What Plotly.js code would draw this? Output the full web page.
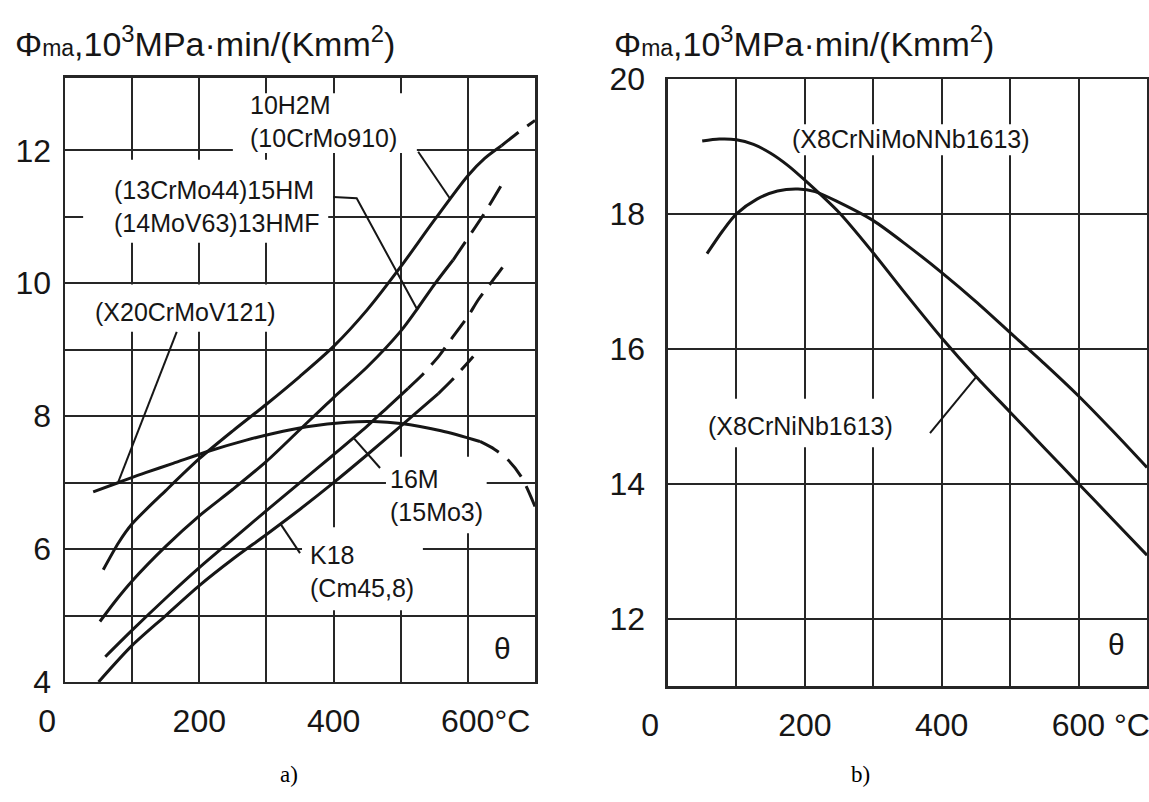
<!DOCTYPE html>
<html><head><meta charset="utf-8">
<script src="https://cdn.plot.ly/plotly-3.0.1.min.js"></script>
<style>html,body{margin:0;padding:0;background:#fff}#chart{width:1149px;height:802px}</style>
</head><body><div id="chart"></div>
<script>
// ---------- Panel a) data (temperature °C, Φma in 10^3 MPa·min/(K mm^2)) ----------
const tA_10H2M      = [57, 80, 100, 150, 200, 250, 300, 350, 400, 450, 500, 550, 600, 625, 650];
const phiA_10H2M    = [5.69, 6.1, 6.38, 6.88, 7.36, 7.78, 8.18, 8.6, 9.05, 9.6, 10.25, 10.95, 11.62, 11.88, 12.07];
const tA_10H2M_d    = [650, 675, 700];
const phiA_10H2M_d  = [12.07, 12.27, 12.45];

const tA_15HM       = [52, 76, 100, 150, 200, 250, 300, 350, 400, 450, 500, 525, 550, 578];
const phiA_15HM     = [4.91, 5.23, 5.52, 6.04, 6.5, 6.9, 7.32, 7.8, 8.28, 8.74, 9.28, 9.62, 9.98, 10.35];
const tA_15HM_d     = [578, 600, 625, 650];
const phiA_15HM_d   = [10.35, 10.68, 11.06, 11.48];

const tA_16M        = [60, 100, 150, 200, 250, 300, 350, 400, 450, 480, 511];
const phiA_16M      = [4.38, 4.78, 5.26, 5.72, 6.15, 6.58, 7.0, 7.42, 7.85, 8.13, 8.42];
const tA_16M_d      = [511, 530, 558, 573, 600, 616, 645, 660];
const phiA_16M_d    = [8.42, 8.6, 8.92, 9.13, 9.5, 9.76, 10.15, 10.36];

const tA_K18        = [50, 100, 150, 200, 250, 300, 350, 400, 450, 500, 556];
const phiA_K18      = [4.0, 4.55, 5.0, 5.45, 5.85, 6.22, 6.6, 7.0, 7.42, 7.85, 8.34];
const tA_K18_d      = [556, 576, 608];
const phiA_K18_d    = [8.34, 8.54, 8.9];

const tA_X20        = [42, 82, 120, 161, 216, 270, 310, 360, 420, 460, 500, 560, 618];
const phiA_X20      = [6.86, 7.01, 7.15, 7.29, 7.48, 7.64, 7.74, 7.84, 7.91, 7.92, 7.89, 7.78, 7.62];
const tA_X20_d      = [618, 640, 660, 680, 700];
const phiA_X20_d    = [7.62, 7.5, 7.34, 7.08, 6.64];

// ---------- Panel b) data ----------
const tB_Nb         = [50, 75, 100, 125, 150, 175, 200, 250, 300, 350, 400, 450, 500, 550, 600, 650, 700];
const phiB_Nb       = [19.08, 19.11, 19.1, 19.03, 18.9, 18.72, 18.5, 18.02, 17.42, 16.78, 16.16, 15.59, 15.06, 14.53, 14.0, 13.47, 12.94];
const tB_MoN        = [57, 80, 100, 130, 160, 190, 215, 250, 300, 350, 400, 450, 500, 550, 600, 650, 700];
const phiB_MoN      = [17.41, 17.75, 18.0, 18.22, 18.34, 18.37, 18.33, 18.17, 17.9, 17.53, 17.13, 16.7, 16.24, 15.78, 15.3, 14.78, 14.24];

// ---------- Tick labels ----------
const xTickVals   = [0, 100, 200, 300, 400, 500, 600];
const xTickTextA  = ['0\u2007\u2007', '', '200', '', '400', '', '\u2007\u2007600°C'];
const xTickTextB  = ['0\u2007\u2007', '', '200', '', '400', '', '\u2007\u2007\u2008600 °C'];
const yTickValsA  = [4, 5, 6, 7, 8, 9, 10, 11, 12];
const yTickTextA  = ['4', '', '6', '', '8', '', '10', '', '12'];
const yTickValsB  = [12, 14, 16, 18, 20];
const yTickTextB  = ['12', '14', '16', '18', '20'];

const INK = '#161616';
const GRID = '#262626';
const FONT = 'Liberation Sans, Arial, sans-serif';

function solid(x, y, xa, ya) {
  return {x, y, xaxis: xa, yaxis: ya, mode: 'lines', hoverinfo: 'skip',
    line: {color: INK, width: 3, shape: 'spline', smoothing: 0.8}};
}
function dashed(x, y, xa, ya) {
  return {x, y, xaxis: xa, yaxis: ya, mode: 'lines', hoverinfo: 'skip',
    line: {color: INK, width: 3, shape: 'spline', smoothing: 0.8, dash: '22px,11px'}};
}

const traces = [
  solid(tA_10H2M, phiA_10H2M, 'x', 'y'), dashed(tA_10H2M_d, phiA_10H2M_d, 'x', 'y'),
  solid(tA_15HM, phiA_15HM, 'x', 'y'),   dashed(tA_15HM_d, phiA_15HM_d, 'x', 'y'),
  solid(tA_16M, phiA_16M, 'x', 'y'),     dashed(tA_16M_d, phiA_16M_d, 'x', 'y'),
  solid(tA_K18, phiA_K18, 'x', 'y'),     dashed(tA_K18_d, phiA_K18_d, 'x', 'y'),
  solid(tA_X20, phiA_X20, 'x', 'y'),     dashed(tA_X20_d, phiA_X20_d, 'x', 'y'),
  solid(tB_Nb, phiB_Nb, 'x2', 'y2'),
  solid(tB_MoN, phiB_MoN, 'x2', 'y2')
];

function axisCommon() {
  return {showgrid: true, gridcolor: GRID, gridwidth: 2, showline: true, mirror: true,
    linecolor: GRID, linewidth: 2.5, zeroline: false, ticks: '', fixedrange: true,
    ticklabeloverflow: 'allow',
    tickfont: {family: FONT, size: 32, color: INK}, tickmode: 'array'};
}
const xa = Object.assign(axisCommon(), {domain: [0, 0.4344], range: [0, 700], anchor: 'y',
  tickvals: xTickVals, ticktext: xTickTextA, ticklabelstandoff: 9});
const ya = Object.assign(axisCommon(), {domain: [0.0066, 0.9984], range: [4, 13.09], anchor: 'x',
  tickvals: yTickValsA, ticktext: yTickTextA, ticklabelstandoff: 5});
const xb = Object.assign(axisCommon(), {domain: [0.5573, 1], range: [0, 700], anchor: 'y2',
  tickvals: xTickVals, ticktext: xTickTextB, ticklabelstandoff: 9});
const yb = Object.assign(axisCommon(), {domain: [0, 0.9967], range: [11, 20], anchor: 'x2',
  tickvals: yTickValsB, ticktext: yTickTextB, ticklabelstandoff: 14});

function whiteBox(xref, yref, x0, x1, y0, y1) {
  return {type: 'rect', xref, yref, x0, x1, y0, y1, layer: 'between',
    fillcolor: '#ffffff', line: {width: 0}};
}
function pointer(xref, yref, path) {
  return {type: 'path', xref, yref, path, layer: 'above', line: {color: INK, width: 2}};
}
const shapes = [
  whiteBox('x', 'y', 250, 524, 11.96, 12.86),
  whiteBox('x', 'y', 27, 392, 10.61, 11.86),
  whiteBox('x', 'y', 30, 330, 9.27, 9.98),
  whiteBox('x', 'y', 478, 628, 6.24, 7.39),
  whiteBox('x', 'y', 353, 533, 5.08, 6.33),
  whiteBox('x2', 'y2', 171, 551, 18.87, 19.33),
  whiteBox('x2', 'y2', 47, 354, 14.54, 15.26),
  pointer('x', 'y', 'M526,11.98 L573,11.28'),
  pointer('x', 'y', 'M399.6,11.30 L434.4,11.28 L523.8,9.62'),
  pointer('x', 'y', 'M166.4,9.27 L79.4,7.01'),
  pointer('x', 'y', 'M469.2,7.22 L430,7.67'),
  pointer('x', 'y', 'M350,5.94 L320.2,6.39'),
  pointer('x2', 'y2', 'M382.9,14.75 L451.1,15.59')
];

function label(xref, yref, x, y, text, size) {
  return {xref, yref, x, y, text, showarrow: false, xanchor: 'left', yanchor: 'middle',
    align: 'left', font: {family: FONT, size: size || 25, color: INK}};
}
function centered(xref, yref, x, y, text, font) {
  return {xref, yref, x, y, text, showarrow: false, xanchor: 'center', yanchor: 'middle', font};
}
const titleText = 'Φ<span style="font-size:23px">ma</span>,10<sup>3</sup>MPa·min/(Kmm<sup>2</sup>)';
const captionFont = {family: 'Liberation Serif, Times New Roman, serif', size: 23, color: '#000'};
const thetaFont = {family: FONT, size: 30, color: INK};
const annotations = [
  label('x', 'y', 272.6, 12.43, '10H2M<br>(10CrMo910)'),
  label('x', 'y', 70, 11.16, '(13CrMo44)15HM<br>(14MoV63)13HMF'),
  label('x', 'y', 41.7, 9.57, '(X20CrMoV121)'),
  label('x', 'y', 481, 6.80, '16M<br>(15Mo3)'),
  label('x', 'y', 362.4, 5.67, 'K18<br>(Cm45,8)'),
  centered('x', 'y', 651, 4.5, 'θ', thetaFont),
  label('x2', 'y2', 178.3, 19.11, '(X8CrNiMoNNb1613)'),
  label('x2', 'y2', 56, 14.85, '(X8CrNiNb1613)'),
  centered('x2', 'y2', 656, 11.62, 'θ', thetaFont),
  label('paper', 'paper', -0.0481, 1.0585, titleText, 34),
  label('paper', 'paper', 0.5055, 1.0585, titleText, 34),
  centered('paper', 'paper', 0.207, -0.146, 'a)', captionFont),
  centered('paper', 'paper', 0.735, -0.146, 'b)', captionFont)
];

const layout = {
  width: 1149, height: 802,
  margin: {l: 65, r: 2, t: 77, b: 116},
  paper_bgcolor: '#ffffff', plot_bgcolor: '#ffffff',
  showlegend: false,
  font: {family: FONT, color: INK},
  xaxis: xa, yaxis: ya, xaxis2: xb, yaxis2: yb,
  shapes, annotations
};
Plotly.newPlot('chart', traces, layout, {staticPlot: true, displayModeBar: false});
</script>
</body></html>
